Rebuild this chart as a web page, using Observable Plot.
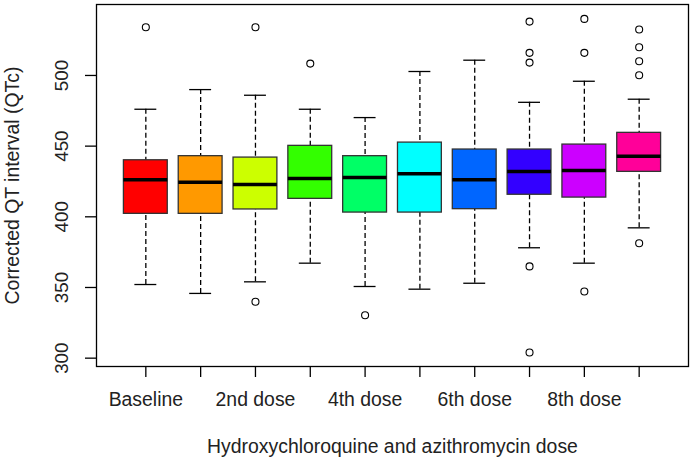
<!DOCTYPE html>
<html>
<head>
<meta charset="utf-8">
<script src="https://cdn.jsdelivr.net/npm/d3@7"></script>
<script src="https://cdn.jsdelivr.net/npm/@observablehq/plot@0.6"></script>
<style>
  html, body { margin: 0; padding: 0; background: white; }
</style>
</head>
<body>
<div id="chart"></div>
<script>
const categories = ["Baseline", "1st dose", "2nd dose", "3rd dose", "4th dose", "5th dose", "6th dose", "7th dose", "8th dose", "9th dose"];
const shownLabels = ["Baseline", "", "2nd dose", "", "4th dose", "", "6th dose", "", "8th dose", ""];
const whiskerLow = [352.1, 345.8, 354.0, 367.2, 350.7, 348.8, 353.0, 378.1, 367.2, 392.2];
const q1 = [402.1, 402.1, 405.2, 412.7, 403.0, 403.0, 405.4, 415.6, 413.6, 431.8];
const medians = [426.2, 424.5, 422.8, 427.1, 427.8, 430.4, 426.2, 432.0, 432.7, 442.9];
const q3 = [440.0, 442.9, 441.9, 450.2, 442.9, 452.5, 447.6, 447.6, 451.1, 459.4];
const whiskerHigh = [476.1, 490.0, 486.0, 476.1, 470.2, 502.8, 510.8, 481.0, 495.9, 483.2];
const outlierGroup = [1, 3, 3, 4, 5, 8, 8, 8, 8, 8, 9, 9, 9, 10, 10, 10, 10, 10];
const outlierValue = [534.1, 534.1, 339.9, 508.4, 330.4, 538.1, 516.0, 509.1, 364.9, 304.0, 540.0, 516.0, 347.2, 532.5, 520.0, 510.0, 500.1, 381.3];
const colors = ["#FF0000", "#FF9900", "#CCFF00", "#33FF00", "#00FF66", "#00FFFF", "#0066FF", "#3300FF", "#CC00FF", "#FF0099"];
const yTicks = [300, 350, 400, 450, 500];
const yLabel = "Corrected QT interval (QTc)";
const xLabel = "Hydroxychloroquine and azithromycin dose";

const boxes = categories.map((c, i) => ({
  i: i + 1, name: c, lo: whiskerLow[i], q1: q1[i], med: medians[i], q3: q3[i], hi: whiskerHigh[i], color: colors[i]
}));
const outliers = outlierGroup.map((g, k) => ({i: g, v: outlierValue[k]}));
const idx = boxes.map(d => d.i);

const fs = 19.4;
const fsY = 18.8;
const chart = Plot.plot({
  width: 693,
  height: 460,
  marginLeft: 96,
  marginRight: 5,
  marginTop: 4,
  marginBottom: 94,
  style: {fontFamily: "'Liberation Sans', Arial, sans-serif", fontSize: fs + "px", background: "white", color: "#222"},
  x: {type: "linear", domain: [0.1, 10.9], axis: null},
  y: {domain: [294.1, 550.2], axis: null},
  marks: [
    Plot.ruleX(boxes, {x: "i", y1: "hi", y2: "q3", stroke: "black", strokeWidth: 1.3, strokeDasharray: "5,3"}),
    Plot.ruleX(boxes, {x: "i", y1: "lo", y2: "q1", stroke: "black", strokeWidth: 1.3, strokeDasharray: "5,3"}),
    Plot.ruleY(boxes, {y: "hi", x1: d => d.i - 0.2, x2: d => d.i + 0.2, stroke: "black", strokeWidth: 1.3}),
    Plot.ruleY(boxes, {y: "lo", x1: d => d.i - 0.2, x2: d => d.i + 0.2, stroke: "black", strokeWidth: 1.3}),
    Plot.rect(boxes, {x1: d => d.i - 0.4, x2: d => d.i + 0.4, y1: "q1", y2: "q3", fill: "color", stroke: "#333", strokeWidth: 1.3}),
    Plot.ruleY(boxes, {y: "med", x1: d => d.i - 0.4, x2: d => d.i + 0.4, stroke: "black", strokeWidth: 3.5}),
    Plot.dot(outliers, {x: "i", y: "v", r: 3.5, stroke: "black", strokeWidth: 1.1, fill: "none"}),
    Plot.frame({stroke: "black", strokeWidth: 1.3}),
    Plot.axisX({ticks: idx, tickSize: 11, tickPadding: 15, tickFormat: d => shownLabels[d - 1], fontSize: fs, label: null, stroke: "black", strokeWidth: 1.3, fill: "#222"}),
    Plot.axisY({ticks: yTicks, tickSize: 11, tickFormat: () => "", label: null, stroke: "black", strokeWidth: 1.3}),
    Plot.text(yTicks, {y: d => d, text: d => String(d), frameAnchor: "left", dx: -34.5, rotate: -90, textAnchor: "middle", lineAnchor: "middle", fontSize: fsY, fill: "#222"}),
    Plot.text([xLabel], {text: d => d, frameAnchor: "bottom", dy: 80, textAnchor: "middle", lineAnchor: "middle", fontSize: fs, fill: "#222"}),
    Plot.text([yLabel], {text: d => d, frameAnchor: "left", dx: -83.3, rotate: -90, textAnchor: "middle", lineAnchor: "middle", fontSize: fs, fill: "#222"})
  ]
});
document.getElementById("chart").appendChild(chart);
</script>
</body>
</html>
